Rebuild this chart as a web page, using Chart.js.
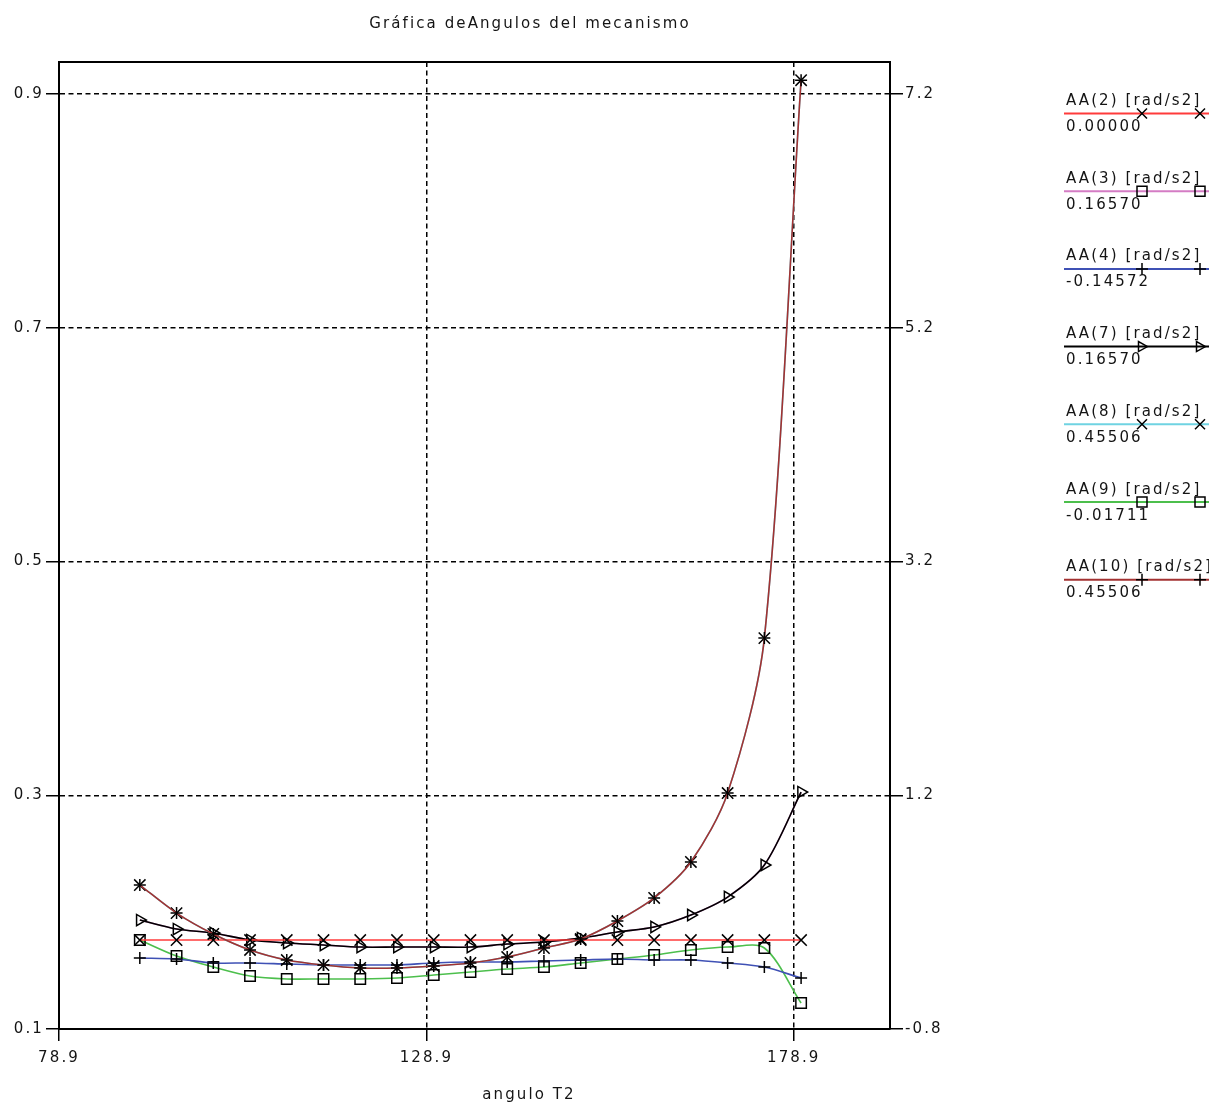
<!DOCTYPE html>
<html>
<head>
<meta charset="utf-8">
<script src="https://cdn.jsdelivr.net/npm/chart.js@4.4.0/dist/chart.umd.min.js"></script>
<style>
html,body{margin:0;padding:0;background:#fff;}
#wrap{position:relative;width:1209px;height:1105px;overflow:hidden;background:#fff;}
#cwrap{position:absolute;left:0;top:0;width:1209px;height:1105px;}
.t{position:absolute;font-family:"DejaVu Sans",Arial,sans-serif;font-size:15px;line-height:16px;letter-spacing:2.1px;color:#141414;white-space:nowrap;}
</style>
</head>
<body>
<div id="wrap">
  <div id="cwrap"><canvas id="c"></canvas></div>
  <div class="t" style="left:330px;width:400px;top:15px;text-align:center;">Gráfica deAngulos del mecanismo</div>
  <div class="t" style="left:379px;width:300px;top:1086px;text-align:center;">angulo T2</div>
  <div id="legend"></div>
</div>
<script>
// ---- data ----
const xValues = [89.9, 94.9, 99.9, 104.9, 109.9, 114.9, 119.9, 124.9, 129.9, 134.9, 139.9, 144.9, 149.9, 154.9, 159.9, 164.9, 169.9, 174.9, 179.9];
const aa2  = [0.1761, 0.1761, 0.1761, 0.1761, 0.1761, 0.1761, 0.1761, 0.1761, 0.1761, 0.1761, 0.1761, 0.1761, 0.1761, 0.1761, 0.1761, 0.1761, 0.1761, 0.1761, 0.1761];
const aa3  = [0.1932, 0.1855, 0.1821, 0.1761, 0.1736, 0.1719, 0.1701, 0.1701, 0.1701, 0.1701, 0.1727, 0.1744, 0.1778, 0.1830, 0.1873, 0.1975, 0.2129, 0.2403, 0.3027];
const aa4  = [0.1607, 0.1599, 0.1565, 0.1565, 0.1556, 0.1548, 0.1548, 0.1548, 0.1565, 0.1573, 0.1573, 0.1582, 0.1590, 0.1599, 0.1590, 0.1590, 0.1565, 0.1530, 0.1436];
const aa7  = [0.1932, 0.1855, 0.1821, 0.1761, 0.1736, 0.1719, 0.1701, 0.1701, 0.1701, 0.1701, 0.1727, 0.1744, 0.1778, 0.1830, 0.1873, 0.1975, 0.2129, 0.2403, 0.3027];
const aa8  = [0.2232, 0.1992, 0.1813, 0.1676, 0.1590, 0.1547, 0.1522, 0.1522, 0.1539, 0.1565, 0.1616, 0.1693, 0.1770, 0.1924, 0.2121, 0.2429, 0.3019, 0.4345, 0.9118];
const aa9  = [0.1761, 0.1624, 0.1530, 0.1453, 0.1428, 0.1428, 0.1428, 0.1436, 0.1462, 0.1488, 0.1513, 0.1530, 0.1565, 0.1599, 0.1633, 0.1676, 0.1701, 0.1693, 0.1222];
const aa10 = [0.2232, 0.1992, 0.1813, 0.1676, 0.1590, 0.1547, 0.1522, 0.1522, 0.1539, 0.1565, 0.1616, 0.1693, 0.1770, 0.1924, 0.2121, 0.2429, 0.3019, 0.4345, 0.9118];

const xTicks  = [78.9, 128.9, 178.9];
const yTicks  = [0.1, 0.3, 0.5, 0.7, 0.9];
const y2Ticks = [-0.8, 1.2, 3.2, 5.2, 7.2];

const legendNames  = ['AA(2) [rad/s2]', 'AA(3) [rad/s2]', 'AA(4) [rad/s2]', 'AA(7) [rad/s2]', 'AA(8) [rad/s2]', 'AA(9) [rad/s2]', 'AA(10) [rad/s2]'];
const legendValues = ['0.00000', '0.16570', '-0.14572', '0.16570', '0.45506', '-0.01711', '0.45506'];
const legendColors = ['#ff3b3b', '#d47cc4', '#3f51b5', '#000000', '#6fd3e2', '#4cbf4c', '#a33232'];
const legendMarks  = ['crossRot', 'rect', 'cross', 'tri', 'crossRot', 'rect', 'cross'];

// ---- styling / helpers ----
const FONT = {family: '"DejaVu Sans", Arial, sans-serif', size: 15};
const LS = '2.1px';
const TOP = 113.5, STEP = 77.7;

function pts(data) { return xValues.map((x, i) => ({x: x, y: data[i]})); }
function ds(label, data, color, style, r, order, rot, showPts) {
  return {
    label: label, data: pts(data), borderColor: color, backgroundColor: color,
    borderWidth: 1.6, pointStyle: style, pointRadius: showPts === false ? 0 : r,
    pointRotation: rot || 0, pointBorderColor: '#000', pointBackgroundColor: 'rgba(0,0,0,0)',
    pointBorderWidth: 1.5, order: order, tension: 0.3, yAxisID: 'y'
  };
}

function mark(ctx, style, x, y) {
  ctx.beginPath();
  if (style === 'crossRot') { const d = 5; ctx.moveTo(x - d, y - d); ctx.lineTo(x + d, y + d); ctx.moveTo(x + d, y - d); ctx.lineTo(x - d, y + d); }
  else if (style === 'cross') { const d = 6; ctx.moveTo(x - d, y); ctx.lineTo(x + d, y); ctx.moveTo(x, y - d); ctx.lineTo(x, y + d); }
  else if (style === 'rect') { ctx.rect(x - 5, y - 5, 10, 10); }
  else if (style === 'tri') { ctx.moveTo(x + 5.5, y); ctx.lineTo(x - 3.5, y - 5); ctx.lineTo(x - 3.5, y + 5); ctx.closePath(); }
  ctx.stroke();
}

const spacing = {
  id: 'spacing',
  beforeLayout(c) { c.ctx.letterSpacing = LS; },
  beforeDraw(c) { c.ctx.letterSpacing = LS; }
};

const frameLegend = {
  id: 'frameLegend',
  afterDraw(chart) {
    const ctx = chart.ctx, a = chart.chartArea;
    ctx.save();
    ctx.setLineDash([]);
    ctx.strokeStyle = '#000';
    ctx.lineWidth = 2;
    ctx.beginPath(); ctx.moveTo(a.left - 1, a.top); ctx.lineTo(a.right + 1, a.top); ctx.stroke();
    for (let i = 0; i < legendNames.length; i++) {
      const y = TOP + i * STEP;
      ctx.strokeStyle = legendColors[i];
      ctx.lineWidth = 2;
      ctx.beginPath(); ctx.moveTo(1064, y); ctx.lineTo(1209, y); ctx.stroke();
      ctx.strokeStyle = '#000';
      ctx.lineWidth = 1.5;
      mark(ctx, legendMarks[i], 1142, y);
      mark(ctx, legendMarks[i], 1200, y);
    }
    ctx.restore();
  }
};

// legend text (real text)
const leg = document.getElementById('legend');
legendNames.forEach((n, i) => {
  const a = document.createElement('div'); a.className = 't';
  a.style.left = '1066px'; a.style.top = (92 + i * STEP) + 'px'; a.textContent = n; leg.appendChild(a);
  const b = document.createElement('div'); b.className = 't';
  b.style.left = '1066px'; b.style.top = (118 + i * STEP) + 'px'; b.textContent = legendValues[i]; leg.appendChild(b);
});

const gridBase = {color: '#000', lineWidth: 1.5, tickColor: '#000', tickWidth: 1.5, tickBorderDash: []};

new Chart(document.getElementById('c'), {
  type: 'line',
  data: {
    datasets: [
      ds('AA(10) [rad/s2]', aa10, '#a33232', 'cross', 6, 1),
      ds('AA(8) [rad/s2]', aa8, '#6fd3e2', 'crossRot', 8, 2),
      ds('AA(2) [rad/s2]', aa2, '#ff3b3b', 'crossRot', 8, 3),
      ds('AA(7) [rad/s2]', aa7, '#000000', 'triangle', 6.5, 4, 90),
      ds('AA(3) [rad/s2]', aa3, '#d47cc4', 'rect', 7.4, 5, 0, false),
      ds('AA(4) [rad/s2]', aa4, '#3f51b5', 'cross', 6, 6),
      ds('AA(9) [rad/s2]', aa9, '#4cbf4c', 'rect', 7.4, 7)
    ]
  },
  options: {
    responsive: true,
    maintainAspectRatio: false,
    animation: false,
    layout: {padding: {top: 62, left: 0, right: 0, bottom: 0}},
    plugins: {legend: {display: false}, tooltip: {enabled: false}, title: {display: false}},
    scales: {
      x: {
        type: 'linear', position: 'bottom', min: 78.9, max: 192,
        afterBuildTicks: s => { s.ticks = xTicks.map(v => ({value: v})); },
        afterFit: s => { s.height = 76; },
        grid: Object.assign({}, gridBase, {tickLength: 12}),
        border: {display: true, color: '#000', width: 2, dash: [5, 3.5]},
        ticks: {color: '#141414', font: FONT, padding: 8, maxRotation: 0, autoSkip: false, callback: v => Number(v).toFixed(1)}
      },
      y: {
        type: 'linear', position: 'left', min: 0.1, max: 0.9274,
        afterBuildTicks: s => { s.ticks = yTicks.map(v => ({value: v})); },
        afterFit: s => { s.width = 59; },
        grid: Object.assign({}, gridBase, {tickLength: 13}),
        border: {display: true, color: '#000', width: 2, dash: [5, 3.5]},
        ticks: {color: '#141414', font: FONT, padding: 2, autoSkip: false, callback: v => Number(v).toFixed(1)}
      },
      y2: {
        type: 'linear', position: 'right', min: -0.8, max: 7.474,
        afterBuildTicks: s => { s.ticks = y2Ticks.map(v => ({value: v})); },
        afterFit: s => { s.width = 319; },
        grid: Object.assign({}, gridBase, {tickLength: 13, drawOnChartArea: false}),
        border: {display: true, color: '#000', width: 2},
        ticks: {color: '#141414', font: FONT, padding: 2, autoSkip: false, callback: v => Number(v).toFixed(1)}
      }
    }
  },
  plugins: [spacing, frameLegend]
});
</script>
</body>
</html>
